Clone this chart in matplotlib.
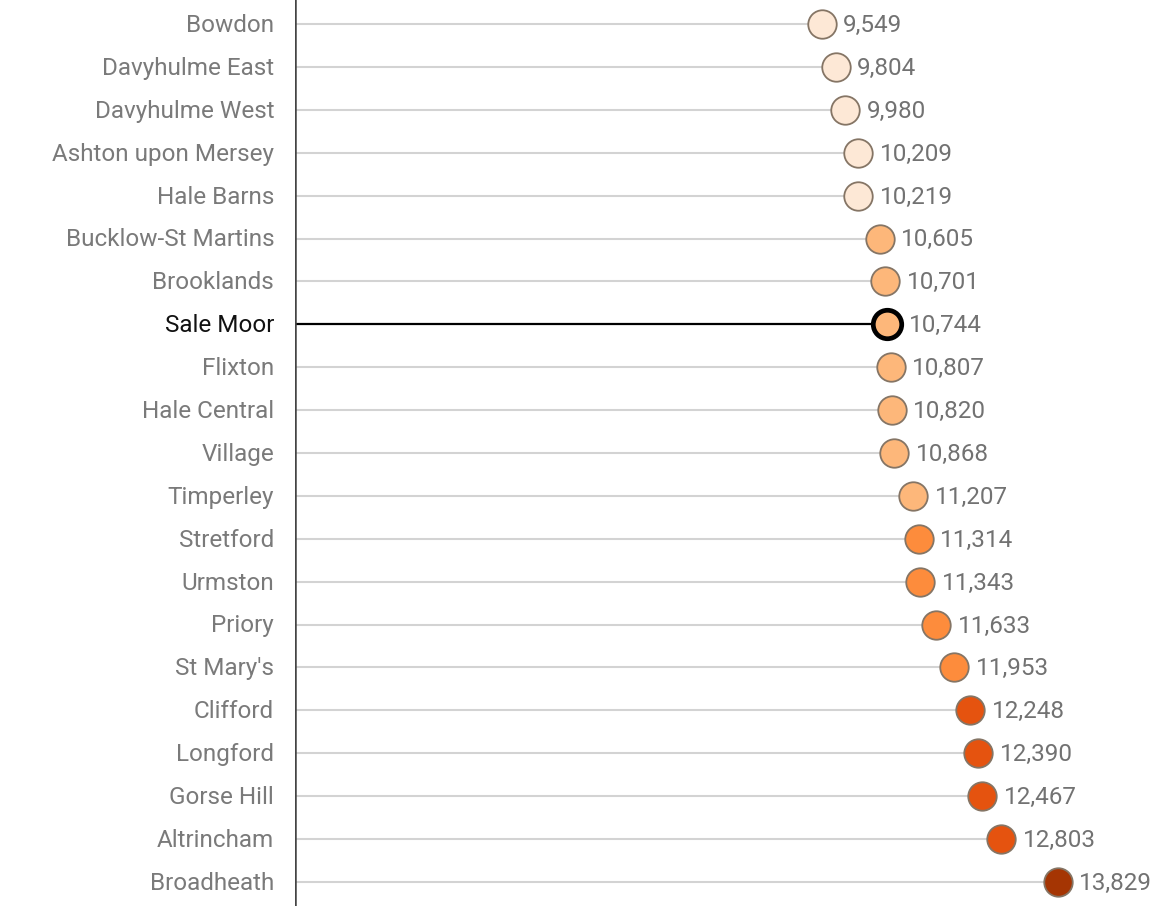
import numpy as np
import matplotlib.pyplot as plt

plt.rcParams['font.family'] = ['Roboto', 'DejaVu Sans']

# Wards and values (top to bottom)
wards = ['Bowdon', 'Davyhulme East', 'Davyhulme West', 'Ashton upon Mersey',
         'Hale Barns', 'Bucklow-St Martins', 'Brooklands', 'Sale Moor',
         'Flixton', 'Hale Central', 'Village', 'Timperley', 'Stretford',
         'Urmston', 'Priory', "St Mary's", 'Clifford', 'Longford',
         'Gorse Hill', 'Altrincham', 'Broadheath']
values = [9549, 9804, 9980, 10209, 10219, 10605, 10701, 10744, 10807, 10820,
          10868, 11207, 11314, 11343, 11633, 11953, 12248, 12390, 12467,
          12803, 13829]
highlight = 'Sale Moor'

# colour bins
bin_edges = [10500, 11300, 12000, 13000]
bin_colors = ['#fde8d6', '#fdb77a', '#fd8c3c', '#e5530f', '#a53503']


def colour_for(v):
    return bin_colors[np.searchsorted(bin_edges, v)]


W, H = 1164, 906
fig = plt.figure(figsize=(W / 100, H / 100), dpi=100)
ax = fig.add_axes([295 / W, 0, 1 - 295 / W, 1])

ax.set_xlim(0, 15760)
ax.set_ylim(len(wards) - 0.44, -0.56)

for i, (w, v) in enumerate(zip(wards, values)):
    hl = (w == highlight)
    ax.plot([0, v], [i, i], color='black' if hl else '#d3d3d3',
            lw=1.6 if hl else 1.5, zorder=1, solid_capstyle='butt')
    ax.plot(v, i, 'o', ms=20.5, mfc=colour_for(v),
            mec='black' if hl else '#857565', mew=3.4 if hl else 1.3, zorder=3)
    ax.annotate(f'{v:,}', (v, i), xytext=(15.5, -1), textcoords='offset points',
                ha='left', va='center', fontsize=17.5, color='#727272')
    ax.annotate(w, (0, i), xytext=(-15, -1), textcoords='offset points',
                ha='right', va='center', fontsize=17.5,
                color='#111111' if hl else '#7a7a7a', annotation_clip=False)

ax.axvline(0, color='#444444', lw=1.8, zorder=2)
for s in ax.spines.values():
    s.set_visible(False)
ax.set_xticks([])
ax.set_yticks([])

fig.savefig('out.png', dpi=100)
